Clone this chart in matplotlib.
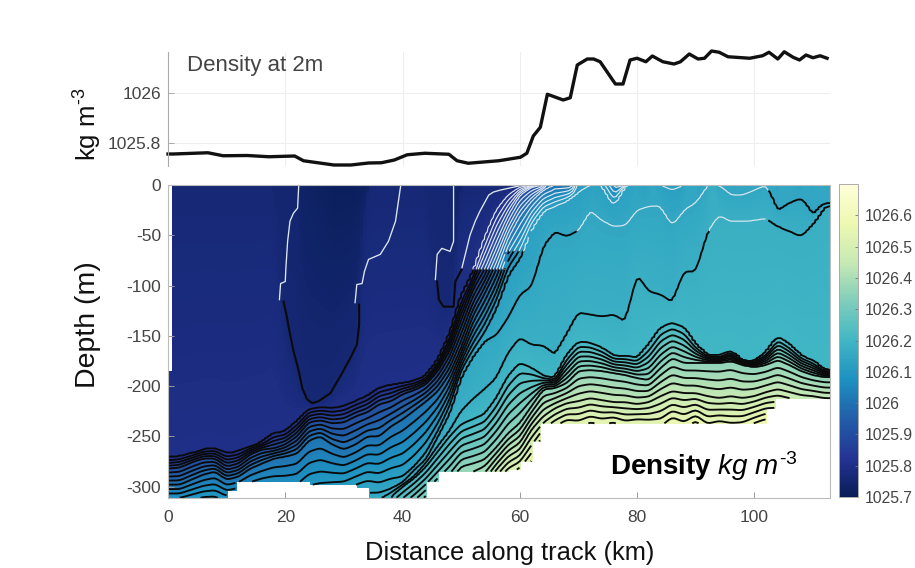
import numpy as np
import matplotlib
matplotlib.use('Agg')
import matplotlib.pyplot as plt

plt.rcParams['font.family'] = ['Liberation Sans', 'DejaVu Sans']
plt.rcParams['mathtext.fontset'] = 'custom'
plt.rcParams['mathtext.rm'] = 'Liberation Sans'
plt.rcParams['mathtext.it'] = 'Liberation Sans:italic'
plt.rcParams['mathtext.bf'] = 'Liberation Sans:bold'
plt.rcParams['axes.unicode_minus'] = False

# density at 2 m, top panel
surf_km = [0, 0.9, 6.8, 9.4, 13.5, 17.2, 21.6, 23.1, 28.3, 31.2, 34.2, 36.4, 38.6, 40.8, 43.8, 47.9, 49.3, 51.2,
           56.4, 60.1, 61.2, 62.3, 63.5, 64.7, 67.4, 68.6, 69.8, 71.5, 72.6, 73.7, 76.3, 77.6, 78.8, 80, 81.5,
           82.6, 84.4, 86.3, 87.4, 88.9, 90.4, 91.5, 92.7, 94, 95.5, 99.2, 101.4, 102.5, 104, 105.1, 106.6,
           107.7, 108.8, 110, 111.2, 112.4]
surf_rho = [1025.757, 1025.757, 1025.762, 1025.75, 1025.751, 1025.746, 1025.749, 1025.73, 1025.713, 1025.713,
            1025.721, 1025.722, 1025.733, 1025.754, 1025.76, 1025.756, 1025.73, 1025.72, 1025.73, 1025.744,
            1025.76, 1025.829, 1025.864, 1025.996, 1025.973, 1025.982, 1026.113, 1026.137, 1026.137, 1026.126,
            1026.037, 1026.037, 1026.133, 1026.14, 1026.126, 1026.149, 1026.126, 1026.117, 1026.126, 1026.157,
            1026.137, 1026.14, 1026.169, 1026.164, 1026.146, 1026.14, 1026.15, 1026.164, 1026.137, 1026.166,
            1026.144, 1026.133, 1026.153, 1026.142, 1026.15, 1026.14]

# depth (m) of some isopycnals along the track, read every 2 km
km = list(range(0, 113, 2))
iso_rho = [1025.76, 1025.8, 1025.9, 1026.0, 1026.125, 1026.15, 1026.175, 1026.2, 1026.35, 1026.45, 1026.6]
iso_bowl = [0]*10 + [142, 185, 215, 212, 203, 180, 160] + [0]*6 + [100, 121] + [0]*32
iso_a = [271, 270, 267, 263, 262, 267, 265, 260, 256, 247, 245, 235, 223, 221, 222, 220, 215, 210,
         202, 199, 197, 195, 190, 175, 149, 111, 88, 53, 25, 10, 2] + [0]*26
iso_b = [282, 281, 276, 272, 272, 280, 277, 268, 263, 262, 258, 250, 236, 234, 237, 236, 230, 226,
         218, 215, 208, 204, 198, 185, 165, 134, 104, 84, 56, 30, 10, 2] + [0]*25
iso_c = [298, 298, 293, 288, 285, 293, 290, 282, 277, 272, 270, 267, 254, 250, 258, 263, 258, 250,
         250, 240, 233, 224, 215, 205, 188, 162, 130, 108, 84, 53, 31, 16, 5] + [0]*24
iso_d = [320, 320, 318, 316, 316, 320, 318, 316, 314, 316, 318, 318, 310, 308, 305, 303, 298, 294, 296, 292, 290,
         280, 266, 245, 220, 184, 164, 146, 122, 89, 73, 43, 26, 21, 16, 7, 0, 0, 21, 0, 0, 0, 0, 5] + [0]*13
iso_e = [330]*17 + [306, 306, 302, 296, 283, 273, 250, 227, 190, 170, 155, 149, 132,
                    109, 101, 60, 46, 51, 45, 25, 35, 41, 40, 25, 21, 21, 40, 25, 18, 0, 0, 10, 10, 5, 0, 26, 18, 13, 30, 18]
iso_f = [340]*18 + [312, 306, 298, 290, 276, 260, 245, 225, 213, 203, 192, 167,
                    152, 159, 160, 169, 149, 127, 129, 131, 129, 136, 89, 106, 109, 117, 86, 86, 46, 30, 36, 36, 35, 33, 41, 46, 51, 38, 21]
iso_g = [350]*19 + [310, 300, 291, 280, 265, 250, 238, 233, 228, 212, 190,
                    177, 182, 190, 192, 169, 156, 157, 162, 170, 170, 172, 159, 142, 137, 142, 159, 169, 170, 165, 175, 175, 167, 151, 159, 170, 175, 184]
iso_h = [360]*19 + [345, 335, 325, 315, 305, 295, 280, 277, 273, 261, 247,
                    237, 220, 203, 202, 197, 185, 184, 185, 187, 189, 192, 194, 182, 172, 177, 177, 177, 177, 175, 179, 181, 179, 174, 179, 185, 189, 191]
iso_i = [370]*22 + [355, 345, 335, 320, 310, 300, 283, 270,
                    263, 243, 230, 222, 217, 215, 212, 214, 216, 216, 218, 216, 210, 205, 207, 207, 210, 212, 210, 212, 210, 206, 203, 206, 209, 210, 212]
iso_j = [380]*26 + [350, 340, 320, 305,
                    300, 290, 268, 258, 250, 254, 248, 251, 246, 253, 248, 251, 255, 244, 250, 240, 251, 246, 250, 248, 242, 238, 240, 242, 243, 245, 247]
iso_depths = [iso_bowl, iso_a, iso_b, iso_c, iso_d, iso_e, iso_f, iso_g, iso_h, iso_i, iso_j]

# sea floor / end of the sections, steps
floor_km = [0, 10, 11.8, 24.3, 32, 34, 44.3, 46.2, 58.3, 60, 62, 63.5, 102, 103.8]
floor_z = [311, 304, 295, 298, 301, 311, 295, 285, 283, 275, 255, 237, 222, 212]

# where the contour colour changes from white to black
split_km = [0, 57.8, 61.5, 102.3]
split_z = [84, 66, 46, 5]

# the two dark bowls are closed contours, taken as lines
bowl1_white1_x = [22.3, 22.1, 21.4, 20.8, 20.4, 20.1, 20, 19.2, 19]
bowl1_white1_z = [0, -23, -28, -36, -56, -83, -96, -98, -114]
bowl1_black_x = [19.7, 20.2, 20.6, 21.4, 22.3, 22.9, 23.7, 24.6, 25.7, 27.7, 28.5, 29.7, 31.1, 32.2, 32.6, 32.6]
bowl1_black_z = [-116, -129, -142, -165, -185, -202, -213, -217, -215, -207, -199, -187, -172, -159, -139, -119]
bowl1_white2_x = [31.9, 32.2, 33.1, 33.5, 34.2, 36.2, 37.6, 38.8, 39.3, 39.7]
bowl1_white2_z = [-117, -99, -98, -86, -74, -69, -56, -36, -16, 0]
bowl2_white1_x = [48.7, 48.7, 48.1, 46.7, 45.9, 45.6]
bowl2_white1_z = [0, -56, -66, -63, -69, -94]
bowl2_black_x = [45.9, 46.2, 47, 48.7, 49, 50.1]
bowl2_black_z = [-96, -114, -121, -121, -96, -84]
bowl2_white2_x = [50.1, 50.7, 51.5, 52.4, 53.2, 54.7, 55.5, 56.7, 60.6]
bowl2_white2_z = [-83, -69, -50, -36, -26, -10, -7, -5, 0]

x_grid = np.linspace(0, 112.9, 227)
z_grid = np.arange(0, 312)

# round off the 2 km corners a bit
iso_grid = []
for depth in iso_depths:
    d = np.interp(x_grid, km, depth)
    d = np.convolve(np.r_[d[0], d, d[-1]], [0.25, 0.5, 0.25], mode='valid')
    iso_grid.append(d)
iso_grid = np.array(iso_grid)

field = np.zeros((len(z_grid), len(x_grid)))
for n, x in enumerate(x_grid):
    s = np.interp(x, surf_km, surf_rho)
    ds = [0.0]
    rs = [s]
    for rho, d in zip(iso_rho, iso_grid[:, n]):
        if d > 0.5:
            ds.append(d)
            rs.append(rho)
        else:
            s = max(s, rho + 0.002)  # level has already surfaced
    if len(rs) > 1:
        s = min(s, rs[1] - 0.004)
    rs[0] = s
    field[:, n] = np.interp(z_grid, ds, rs)

X, Z = np.meshgrid(x_grid, z_grid)
floor = np.array(floor_z)[np.searchsorted(floor_km, x_grid, side='right') - 1]
split = np.array(split_z)[np.searchsorted(split_km, x_grid, side='right') - 1]
nodata = (Z > floor[None, :]) | ((X < 0.7) & (Z < 185))
rho_all = np.ma.masked_where(nodata, field)
rho_up = np.ma.masked_where(nodata | (Z > split[None, :]), field)
rho_low = np.ma.masked_where(nodata | (Z < split[None, :] - 1), field)
levels = np.arange(1025.8, 1026.59, 0.025)

W, H = 915, 568
fig = plt.figure(figsize=(W/100, H/100), dpi=100)


def box(l, t, r, b):
    return [l/W, 1 - b/H, (r - l)/W, (b - t)/H]


# top panel
ax1 = fig.add_axes(box(168, 52, 830, 166))
ax1.plot(surf_km, surf_rho, color='#111111', lw=2.4, solid_joinstyle='round', clip_on=False)
ax1.set_xlim(0, 112.9)
ax1.set_ylim(1025.709, 1026.165)
ax1.set_xticks([20, 40, 60, 80, 100])
ax1.set_xticklabels([])
ax1.set_yticks([1025.8, 1026])
ax1.set_yticklabels(['1025.8', '1026'], fontsize=12.5, color='#444444')
ax1.grid(color='#eeeeee', lw=0.8)
ax1.set_axisbelow(True)
for s in ['top', 'right', 'bottom']:
    ax1.spines[s].set_visible(False)
ax1.spines['left'].set_color('#aaaaaa')
ax1.tick_params(axis='y', direction='in', length=4, width=0.7, color='#aaaaaa', pad=5)
ax1.tick_params(axis='x', length=0)
ax1.text(0.029, 0.885, 'Density at 2m', transform=ax1.transAxes, fontsize=16, color='#444444', va='center')

# section
ax2 = fig.add_axes(box(168, 185, 830, 497.7))
mesh = ax2.pcolormesh(x_grid, -z_grid, rho_all, shading='nearest', cmap='YlGnBu_r', vmin=1025.7, vmax=1026.7)
ax2.contour(x_grid, -z_grid, rho_low, levels=levels, colors='#0a0a0a', linewidths=1.35)
ax2.contour(x_grid, -z_grid, rho_up, levels=levels, colors='#dfe8f2', linewidths=0.85)
for xs, zs in [(bowl1_white1_x, bowl1_white1_z), (bowl1_white2_x, bowl1_white2_z),
               (bowl2_white1_x, bowl2_white1_z), (bowl2_white2_x, bowl2_white2_z)]:
    ax2.plot(xs, zs, color='#dfe8f2', lw=0.95)
for xs, zs in [(bowl1_black_x, bowl1_black_z), (bowl2_black_x, bowl2_black_z)]:
    ax2.plot(xs, zs, color='#0a0a0a', lw=1.5)
ax2.set_xlim(0, 112.9)
ax2.set_ylim(-311, 0)
ax2.set_xticks([0, 20, 40, 60, 80, 100])
ax2.set_yticks([0, -50, -100, -150, -200, -250, -300])
ax2.tick_params(direction='in', length=4, width=0.7, color='#999999', labelsize=12.5, labelcolor='#444444', pad=5)
ax2.tick_params(axis='x', pad=9)
for s in ax2.spines.values():
    s.set_color('#bbbbbb')

ax2.text(0.667, 0.1, r'$\mathbf{Density}$ $\mathit{kg\ m^{\text{-}3}}$', transform=ax2.transAxes, fontsize=20,
         color='black', va='center')

fig.text(509.5/W, 1 - 553/H, 'Distance along track (km)', fontsize=18.4, color='#111111', ha='center', va='center')
fig.text(88/W, 1 - 325/H, 'Depth (m)', rotation=90, fontsize=20.5, color='#111111', ha='center', va='center')
fig.text(88/W, 1 - 124/H, r'kg m$^{\text{-}3}$', rotation=90, fontsize=18.5, color='#111111', ha='center', va='center')

# colourbar
cax = fig.add_axes(box(839, 184, 858, 497))
cb = fig.colorbar(mesh, cax=cax)
cb.set_ticks(np.arange(1025.7, 1026.65, 0.1))
cb.set_ticklabels(['1025.7', '1025.8', '1025.9', '1026', '1026.1', '1026.2', '1026.3', '1026.4', '1026.5', '1026.6'])
cax.tick_params(direction='in', length=2.5, width=0.6, color='#777777', labelsize=11.3, labelcolor='#444444', pad=5)
cb.outline.set_edgecolor('#aaaaaa')
cb.outline.set_linewidth(0.7)

fig.savefig('out.png', dpi=100)
